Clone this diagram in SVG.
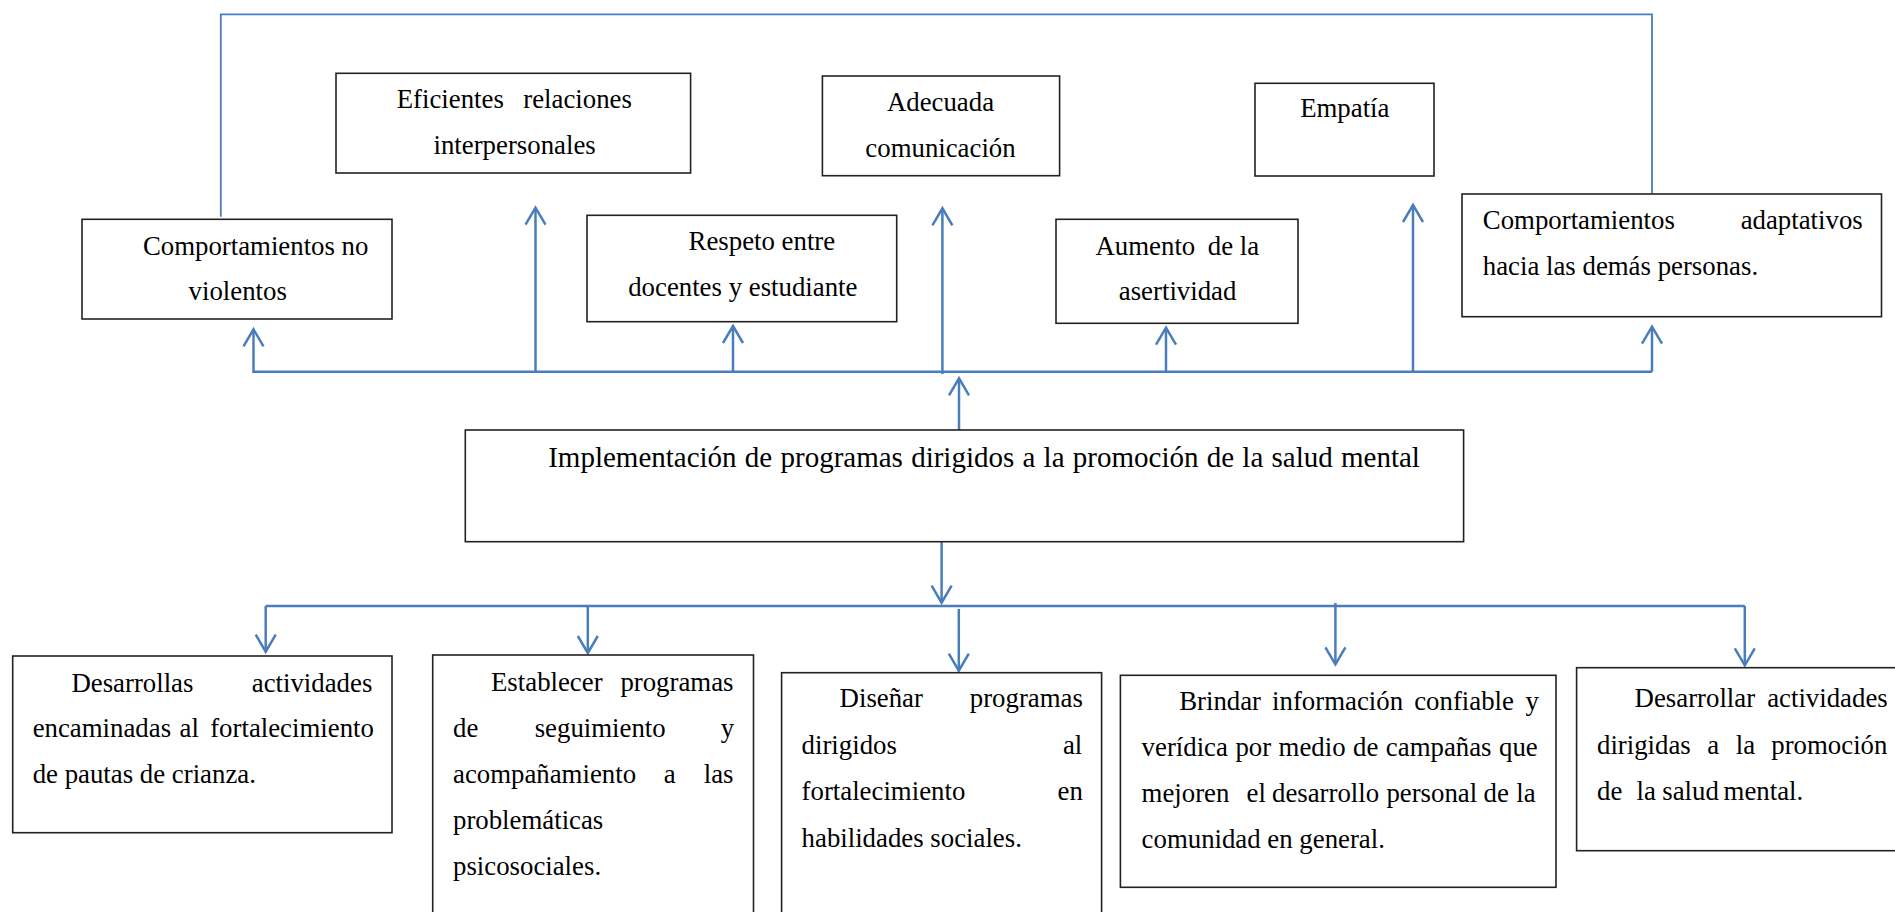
<svg xmlns="http://www.w3.org/2000/svg" width="1895" height="912" viewBox="0 0 1895 912">
<defs>
<marker id="arr" viewBox="-20 -12 22 24" refX="0" refY="0" markerWidth="22" markerHeight="24" markerUnits="userSpaceOnUse" orient="auto" overflow="visible">
<path d="M-17,-10 L0,0 L-17,10" fill="none" stroke="#4a7ebb" stroke-width="2.5"/>
</marker>
<style>
.box{fill:#fff;stroke:#222;stroke-width:1.6}
.t{font-family:"Liberation Serif","Times New Roman",serif;font-size:26.8px;fill:#000}
.c{text-anchor:middle}
.ln{fill:none;stroke:#4a7ebb;stroke-width:2.5}
.thin{fill:none;stroke:#4a7ebb;stroke-width:1.8}
.ar{fill:none;stroke:#4a7ebb;stroke-width:2.5;marker-end:url(#arr)}
</style>
</defs>
<rect width="1895" height="912" fill="#fff"/>
<g id="connectors">
<polyline class="thin" points="220.8,216.7 220.8,14.3 1652,14.3 1652,193.3"/>
<line class="ln" x1="253.5" y1="371.7" x2="1652" y2="371.7"/>
<line class="ar" x1="253.5" y1="373" x2="253.5" y2="329.3"/>
<line class="ar" x1="535.5" y1="371.7" x2="535.5" y2="207.7"/>
<line class="ar" x1="733" y1="371.7" x2="733" y2="326"/>
<line class="ar" x1="942.4" y1="374" x2="942.4" y2="208.3"/>
<line class="ar" x1="1166" y1="371.7" x2="1166" y2="327.7"/>
<line class="ar" x1="1413" y1="371.7" x2="1413" y2="205"/>
<line class="ar" x1="1652" y1="371.7" x2="1652" y2="326.7"/>
<line class="ar" x1="959" y1="430" x2="959" y2="378.3"/>
<line class="ar" x1="941.6" y1="541.7" x2="941.6" y2="602.7"/>
<line class="ln" x1="265.7" y1="606" x2="1744.8" y2="606"/>
<line class="ar" x1="265.7" y1="606" x2="265.7" y2="651.7"/>
<line class="ar" x1="587.8" y1="606" x2="587.8" y2="653"/>
<line class="ar" x1="958.8" y1="609" x2="958.8" y2="670.7"/>
<line class="ar" x1="1335.4" y1="603" x2="1335.4" y2="664.3"/>
<line class="ar" x1="1744.8" y1="606" x2="1744.8" y2="665.3"/>
</g>
<g id="n-comportamientos-no-violentos">
<rect class="box" x="82" y="219.3" width="310" height="99.7"/>
<text class="t"><tspan x="142.9" y="255">Comportamientos no</tspan><tspan x="188.6" y="300">violentos</tspan></text>
</g>
<g id="n-eficientes-relaciones">
<rect class="box" x="336" y="73.3" width="354.6" height="99.7"/>
<text class="t"><tspan x="396.7" y="108.3">Eficientes</tspan><tspan x="523.3" y="108.3">relaciones</tspan><tspan x="433.5" y="154">interpersonales</tspan></text>
</g>
<g id="n-respeto">
<rect class="box" x="587" y="215.3" width="309.7" height="106.4"/>
<text class="t"><tspan x="688.6" y="250">Respeto entre</tspan><tspan x="628.2" y="296">docentes y estudiante</tspan></text>
</g>
<g id="n-adecuada-comunicacion">
<rect class="box" x="822.4" y="76" width="237.2" height="99.7"/>
<text class="t c"><tspan x="940.5" y="110.7">Adecuada</tspan><tspan x="940.5" y="156.7">comunicación</tspan></text>
</g>
<g id="n-aumento-asertividad">
<rect class="box" x="1056" y="219.3" width="242" height="104"/>
<text class="t"><tspan x="1095.5" y="255">Aumento</tspan><tspan x="1207.8" y="255">de la</tspan><tspan x="1118.8" y="300">asertividad</tspan></text>
</g>
<g id="n-empatia">
<rect class="box" x="1255" y="83.3" width="179" height="92.7"/>
<text class="t c" x="1344.8" y="117.3">Empatía</text>
</g>
<g id="n-comportamientos-adaptativos">
<rect class="box" x="1462" y="194" width="419.5" height="122.7"/>
<text class="t"><tspan x="1482.8" y="229.3">Comportamientos</tspan><tspan x="1740.7" y="229.3">adaptativos</tspan><tspan x="1482.8" y="275">hacia las demás personas.</tspan></text>
</g>
<g id="n-implementacion">
<rect class="box" x="465.3" y="430" width="998.3" height="111.7"/>
<text class="t" x="548.2" y="467" style="font-size:29px;word-spacing:1px">Implementación de programas dirigidos a la promoción de la salud mental</text>
</g>
<g id="n-pautas-crianza">
<rect class="box" x="12.7" y="656" width="379.3" height="176.7"/>
<text class="t"><tspan x="71.4" y="691.7">Desarrollas</tspan><tspan x="251.8" y="691.7">actividades</tspan><tspan x="32.7" y="737.3">encaminadas</tspan><tspan x="179.6" y="737.3">al</tspan><tspan x="210.2" y="737.3">fortalecimiento</tspan><tspan x="32.7" y="783.3">de pautas de crianza.</tspan></text>
</g>
<g id="n-seguimiento">
<rect class="box" x="432.7" y="655" width="320.8" height="280"/>
<text class="t"><tspan x="491" y="690.7">Establecer</tspan><tspan x="620.4" y="690.7">programas</tspan><tspan x="453" y="736.7">de</tspan><tspan x="534.7" y="736.7">seguimiento</tspan><tspan x="720.8" y="736.7">y</tspan><tspan x="453" y="782.7">acompañamiento</tspan><tspan x="663.7" y="782.7">a</tspan><tspan x="703.7" y="782.7">las</tspan><tspan x="453" y="829.3">problemáticas</tspan><tspan x="453" y="875">psicosociales.</tspan></text>
</g>
<g id="n-habilidades-sociales">
<rect class="box" x="781.6" y="672.7" width="320" height="270"/>
<text class="t"><tspan x="839.6" y="707.3">Diseñar</tspan><tspan x="969.8" y="707.3">programas</tspan><tspan x="801.6" y="754">dirigidos</tspan><tspan x="1062.9" y="754">al</tspan><tspan x="801.6" y="800">fortalecimiento</tspan><tspan x="1057.6" y="800">en</tspan><tspan x="801.6" y="846.7">habilidades sociales.</tspan></text>
</g>
<g id="n-informacion-confiable">
<rect class="box" x="1120.4" y="675.3" width="435.6" height="212"/>
<text class="t"><tspan x="1179.2" y="710">Brindar</tspan><tspan x="1272.1" y="710">información</tspan><tspan x="1414.2" y="710">confiable</tspan><tspan x="1525.6" y="710">y</tspan><tspan x="1141.6" y="756" style="word-spacing:0.8px">verídica por medio de campañas que</tspan><tspan x="1141.6" y="801.7">mejoren</tspan><tspan x="1246.5" y="801.7">el</tspan><tspan x="1272" y="801.7">desarrollo</tspan><tspan x="1386.4" y="801.7">personal</tspan><tspan x="1483.6" y="801.7">de</tspan><tspan x="1516.2" y="801.7">la</tspan><tspan x="1141.6" y="848.3">comunidad en general.</tspan></text>
</g>
<g id="n-promocion-salud-mental">
<rect class="box" x="1576.6" y="667.7" width="340" height="183"/>
<text class="t"><tspan x="1634.6" y="707.3">Desarrollar</tspan><tspan x="1767.2" y="707.3">actividades</tspan><tspan x="1597" y="754">dirigidas</tspan><tspan x="1707.2" y="754">a</tspan><tspan x="1735.8" y="754">la</tspan><tspan x="1771.3" y="754">promoción</tspan><tspan x="1597" y="800">de</tspan><tspan x="1636.6" y="800">la</tspan><tspan x="1662.3" y="800">salud</tspan><tspan x="1723.6" y="800">mental.</tspan></text>
</g>
</svg>
